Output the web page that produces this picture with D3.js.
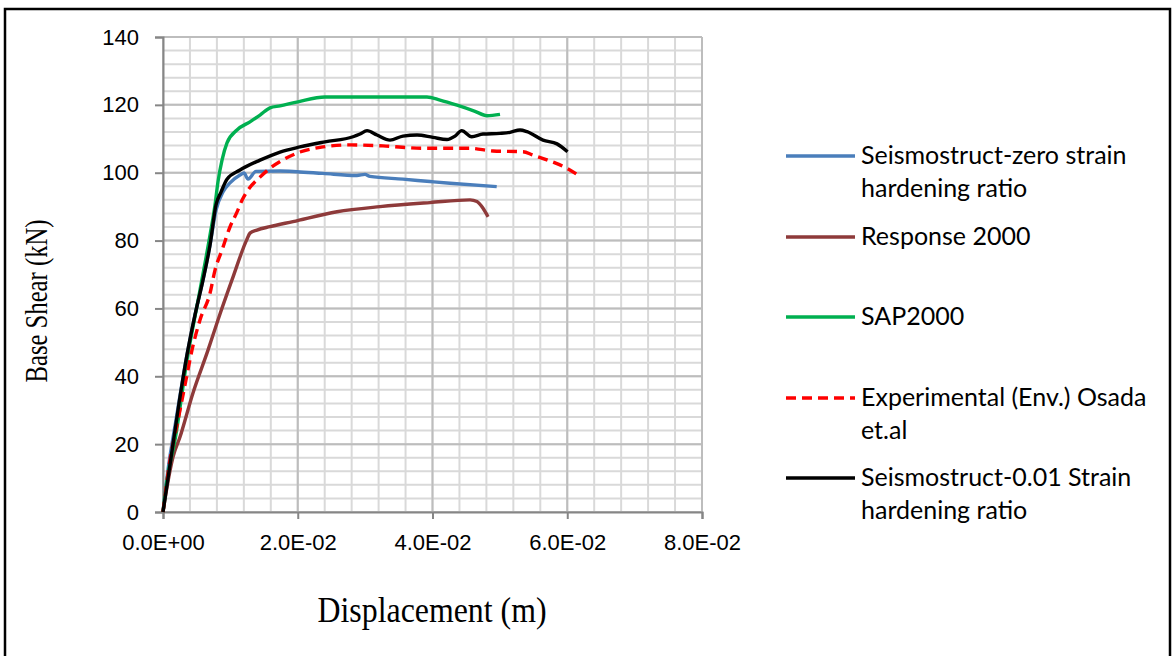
<!DOCTYPE html>
<html>
<head>
<meta charset="utf-8">
<script src="https://cdn.jsdelivr.net/npm/d3@7"></script>
<style>
  body { margin: 0; background: #fff; }
</style>
</head>
<body>
<div class="chart"></div>
<script>
// displacement (m), base shear (kN)
var seismoZero = [[0,0],[0.00074,12.4],[0.00193,27.1],[0.00356,46.3],[0.00475,58.1],[0.00594,68.4],[0.00698,78.7],[0.00787,89.0],[0.0089,94.3],[0.00994,97.0],[0.01143,99.3],[0.01202,99.9],[0.01262,98.1],[0.0138,100.4],[0.01737,100.5],[0.01989,100.3],[0.02375,99.8],[0.02879,99.2],[0.02998,99.5],[0.03072,98.9],[0.03562,98.1],[0.03963,97.4],[0.0426,96.9],[0.04953,95.9]];
var response2000 = [[0,0],[0.00052,6.5],[0.00148,16.2],[0.00252,22.1],[0.00445,35.1],[0.00668,47.7],[0.00816,56.6],[0.01024,68.4],[0.01242,80.2],[0.01291,82.2],[0.01395,83.1],[0.01588,84.1],[0.01929,85.6],[0.02583,88.5],[0.03221,90.0],[0.03963,91.2],[0.04557,92.0],[0.0466,91.5],[0.0475,89.5],[0.04824,87.0]];
var sap2000 = [[0,0],[0.00059,9.4],[0.00178,21.2],[0.00356,44.8],[0.00549,65.4],[0.00698,81.6],[0.00772,90.5],[0.00816,97.3],[0.00876,103.7],[0.0095,108.8],[0.01098,112.6],[0.01291,115.0],[0.0144,117.0],[0.01588,119.1],[0.01737,119.7],[0.02004,120.9],[0.02404,122.3],[0.03918,122.3],[0.04111,121.4],[0.04364,119.9],[0.04631,118.1],[0.04809,116.8],[0.05002,117.2]];
var experimental = [[0,0],[0.00104,15.3],[0.00223,27.1],[0.00341,38.9],[0.0043,47.7],[0.00549,56.6],[0.00698,64.5],[0.00772,71.3],[0.00876,77.2],[0.00994,84.0],[0.01098,88.4],[0.01173,91.9],[0.01262,94.9],[0.0144,98.7],[0.01588,101.3],[0.01781,103.8],[0.02033,106.1],[0.02375,107.6],[0.02776,108.2],[0.03265,107.9],[0.03859,107.2],[0.04557,107.2],[0.04898,106.4],[0.05343,106.2],[0.05492,105.2],[0.05699,103.8],[0.05996,101.3],[0.0616,99.3]];
var seismoHard = [[0,0],[0.00104,13.9],[0.00223,30.1],[0.00356,46.3],[0.00475,58.1],[0.00594,68.4],[0.00698,78.7],[0.00787,90.5],[0.00861,94.3],[0.0095,98.1],[0.01143,100.8],[0.0144,103.7],[0.01737,106.1],[0.02033,107.6],[0.02404,109.1],[0.0282,110.6],[0.02924,111.4],[0.03028,112.4],[0.03176,111.1],[0.03369,109.6],[0.03562,110.8],[0.0377,111.1],[0.04007,110.4],[0.04215,109.8],[0.04334,110.8],[0.04433,112.4],[0.04582,110.6],[0.0475,111.4],[0.05002,111.6],[0.0515,111.9],[0.05299,112.6],[0.05403,112.1],[0.0564,109.6],[0.05848,108.5],[0.06004,106.2]];

var seriesNames = [["Seismostruct-zero strain", "hardening ratio"], ["Response 2000"], ["SAP2000"], ["Experimental (Env.) Osada", "et.al"], ["Seismostruct-0.01 Strain", "hardening ratio"]];
var xTicks = [0, 0.02, 0.04, 0.06, 0.08];
var xTickLabels = ["0.0E+00", "2.0E-02", "4.0E-02", "6.0E-02", "8.0E-02"];
var yTicks = [0, 20, 40, 60, 80, 100, 120, 140];

var series = [
    {name: seriesNames[0], values: seismoZero, color: "#4a7ebb", dash: null},
    {name: seriesNames[1], values: response2000, color: "#8e3a3a", dash: null},
    {name: seriesNames[2], values: sap2000, color: "#00b050", dash: null},
    {name: seriesNames[3], values: experimental, color: "#ff0000", dash: "10,6"},
    {name: seriesNames[4], values: seismoHard, color: "#000000", dash: null}
];

var W = 1176, H = 656;
var margin = {top: 37, left: 163};
var plotW = 539, plotH = 475;

var svg = d3.select(".chart").append("svg")
        .attr("width", W)
        .attr("height", H);

// outer frame
svg.append("rect")
        .attr("x", 5).attr("y", 9)
        .attr("width", 1165).attr("height", 670)
        .attr("fill", "none")
        .attr("stroke", "#000")
        .attr("stroke-width", 2.5);

var g = svg.append("g")
        .attr("transform", "translate(" + margin.left + "," + margin.top + ")");

var x = d3.scaleLinear().domain([0, 0.08]).range([0, plotW]);
var y = d3.scaleLinear().domain([0, 140]).range([plotH, 0]);

// minor grid (5 per major step)
var xMinor = d3.range(0, 0.0801, 0.004);
var yMinor = d3.range(0, 140.1, 4);
g.append("g").selectAll("line")
        .data(xMinor)
        .enter().append("line")
        .attr("x1", function (d) { return x(d); })
        .attr("x2", function (d) { return x(d); })
        .attr("y1", 0).attr("y2", plotH)
        .attr("stroke", "#d9d9d9").attr("stroke-width", 2);
g.append("g").selectAll("line")
        .data(yMinor)
        .enter().append("line")
        .attr("y1", function (d) { return y(d); })
        .attr("y2", function (d) { return y(d); })
        .attr("x1", 0).attr("x2", plotW)
        .attr("stroke", "#d9d9d9").attr("stroke-width", 2);

// major grid
g.append("g").selectAll("line")
        .data(xTicks)
        .enter().append("line")
        .attr("x1", function (d) { return x(d); })
        .attr("x2", function (d) { return x(d); })
        .attr("y1", 0).attr("y2", plotH)
        .attr("stroke", "#bdbdbd").attr("stroke-width", 2);
g.append("g").selectAll("line")
        .data(yTicks)
        .enter().append("line")
        .attr("y1", function (d) { return y(d); })
        .attr("y2", function (d) { return y(d); })
        .attr("x1", 0).attr("x2", plotW)
        .attr("stroke", "#bdbdbd").attr("stroke-width", 2);

// axes
var xAxis = d3.axisBottom(x)
        .tickValues(xTicks)
        .tickSize(7)
        .tickPadding(14)
        .tickFormat(function (d, i) { return xTickLabels[i]; });
var yAxis = d3.axisLeft(y)
        .tickValues(yTicks)
        .tickSize(8)
        .tickPadding(16)
        .tickFormat(d3.format("d"));

var x_g = g.append("g")
        .attr("transform", "translate(0," + plotH + ")")
        .call(xAxis);
var y_g = g.append("g").call(yAxis);

[x_g, y_g].forEach(function (ax) {
    ax.select(".domain").attr("stroke", "#868686").attr("stroke-width", 2);
    ax.selectAll(".tick line").attr("stroke", "#868686").attr("stroke-width", 2);
    ax.selectAll("text")
            .attr("fill", "#000")
            .style("font-family", "'Liberation Sans', Arial, sans-serif")
            .style("font-size", "22px");
});
x_g.selectAll("text").attr("dy", "0.75em");

// lines
var line = d3.line()
        .x(function (d) { return x(d[0]); })
        .y(function (d) { return y(d[1]); })
        .curve(d3.curveMonotoneX);

g.append("g").selectAll("path")
        .data(series)
        .enter().append("path")
        .attr("d", function (d) { return line(d.values); })
        .attr("fill", "none")
        .attr("stroke", function (d) { return d.color; })
        .attr("stroke-width", 3.4)
        .attr("stroke-linejoin", "round")
        .attr("stroke-dasharray", function (d) { return d.dash; });

// axis titles
svg.append("text")
        .attr("x", 432).attr("y", 622)
        .attr("text-anchor", "middle")
        .attr("textLength", 229)
        .attr("lengthAdjust", "spacingAndGlyphs")
        .style("font-family", "'Liberation Serif', 'Times New Roman', serif")
        .style("font-size", "35px")
        .text("Displacement (m)");

svg.append("text")
        .attr("transform", "translate(47,301) rotate(-90)")
        .attr("text-anchor", "middle")
        .attr("textLength", 163)
        .attr("lengthAdjust", "spacingAndGlyphs")
        .style("font-family", "'Liberation Serif', 'Times New Roman', serif")
        .style("font-size", "31px")
        .text("Base Shear (kN)");

// legend
var legendY = [156, 237, 317, 398, 478];
var legend = svg.append("g").selectAll("g")
        .data(series)
        .enter().append("g")
        .attr("transform", function (d, i) { return "translate(786," + legendY[i] + ")"; });
legend.append("line")
        .attr("x1", 0).attr("x2", 69)
        .attr("y1", 0).attr("y2", 0)
        .attr("stroke", function (d) { return d.color; })
        .attr("stroke-width", 3.4)
        .attr("stroke-dasharray", function (d) { return d.dash; });
legend.append("text")
        .attr("x", 75)
        .attr("y", 8)
        .style("font-family", "Lato, 'Open Sans', sans-serif")
        .style("font-size", "25px")
        .selectAll("tspan")
        .data(function (d) { return d.name; })
        .enter().append("tspan")
        .attr("x", 75)
        .attr("dy", function (d, i) { return i === 0 ? 0 : 33; })
        .text(function (d) { return d; });
</script>
</body>
</html>
